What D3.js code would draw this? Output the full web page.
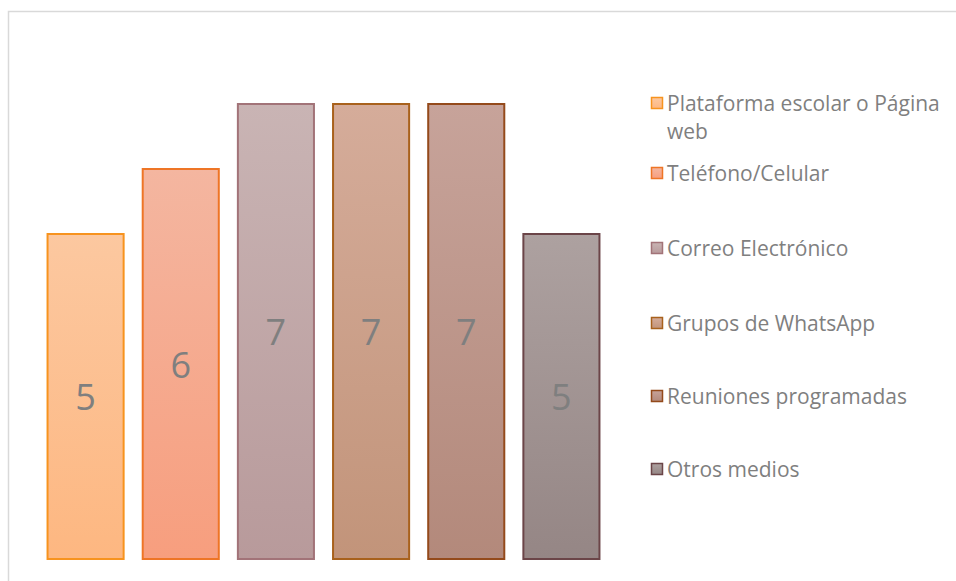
<!DOCTYPE html>
<html><head><meta charset="utf-8">
<script src="https://cdn.jsdelivr.net/npm/d3@7/dist/d3.min.js"></script>
<style>html,body{margin:0;padding:0;background:#fff;}svg{display:block;}</style>
</head><body>
<script>
const categories = ["Plataforma escolar o Página web","Teléfono/Celular","Correo Electrónico","Grupos de WhatsApp","Reuniones programadas","Otros medios"];
const values = [5,6,7,7,7,5];
const legendLines = [["Plataforma escolar o Página","web"],["Teléfono/Celular"],["Correo Electrónico"],["Grupos de WhatsApp"],["Reuniones programadas"],["Otros medios"]];
const fillTop = ["#FCC8A0","#F4B6A0","#C9B4B4","#D5AC9A","#C7A39A","#ADA1A0"];
const fillBottom = ["#FDB781","#F79E7E","#B89A9B","#C2947A","#B3897B","#958685"];
const strokes = ["#F7931E","#EE7526","#A27378","#A8611C","#944A1B","#6B4548"];
const legendY = [103,173,248,323,396,469];

const W=956,H=581;
const svg=d3.select("body").append("svg").attr("width",W).attr("height",H);
const defs=svg.append("defs");
categories.forEach((c,i)=>{
  const g=defs.append("linearGradient").attr("id","g"+i).attr("x1",0).attr("y1",0).attr("x2",0).attr("y2",1);
  g.append("stop").attr("offset","0%").attr("stop-color",fillTop[i]);
  g.append("stop").attr("offset","100%").attr("stop-color",fillBottom[i]);
});
// frame
svg.append("rect").attr("x",8.5).attr("y",11.5).attr("width",1000).attr("height",1000)
  .attr("fill","none").attr("stroke","#d9d9d9").attr("stroke-width",1.5);

const x=d3.scaleBand().domain(categories).range([38,609]).paddingInner(0.19).paddingOuter(0.095);
const y=d3.scaleLinear().domain([0,7]).range([559,104]);

const bars=svg.append("g");
bars.selectAll("rect").data(categories).join("rect")
  .attr("x",d=>x(d)+0.5).attr("y",(d,i)=>y(values[i]))
  .attr("width",x.bandwidth()-1).attr("height",(d,i)=>y(0)-y(values[i]))
  .attr("fill",(d,i)=>`url(#g${i})`).attr("stroke",(d,i)=>strokes[i]).attr("stroke-width",2);
bars.selectAll("text").data(categories).join("text")
  .attr("x",d=>x(d)+x.bandwidth()/2)
  .attr("y",(d,i)=>(y(values[i])+y(0))/2)
  .attr("text-anchor","middle").attr("dominant-baseline","central")
  .attr("font-family","'Open Sans', sans-serif").attr("font-size",36)
  .attr("fill","#7f7f7f")
  .text((d,i)=>values[i]);

const lg=svg.append("g");
categories.forEach((c,i)=>{
  const gy=legendY[i];
  lg.append("rect").attr("x",651.5).attr("y",gy-5.5).attr("width",11).attr("height",11)
    .attr("fill",`url(#g${i})`).attr("stroke",strokes[i]).attr("stroke-width",1.5);
  const t=lg.append("text").attr("x",667).attr("y",gy)
    .attr("font-family","'Open Sans', sans-serif").attr("font-size",21).attr("fill","#7f7f7f")
    .attr("dominant-baseline","central");
  legendLines[i].forEach((l,j)=>{
    t.append("tspan").attr("x",667).attr("dy",j===0?0:28).text(l);
  });
});
</script>
</body></html>
